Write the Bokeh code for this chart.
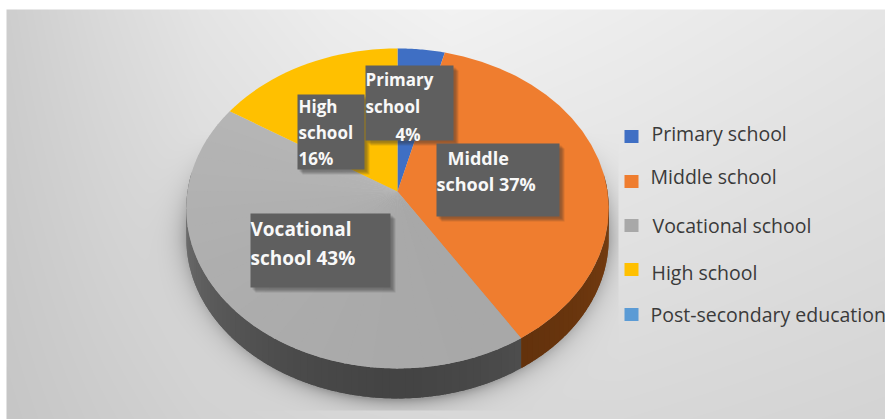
import numpy as np
from bokeh.core.properties import value
from bokeh.embed import file_html
from bokeh.plotting import figure
from bokeh.resources import INLINE

# Educational attainment shares
categories = ["Primary school", "Middle school", "Vocational school", "High school",
              "Post-secondary education"]
shares = [4, 37, 43, 16, 0]
top_colors = ["#3f6fc4", "#ef7d2f", "#a8a8a8", "#ffc000", "#5b9bd5"]
wall_dark = ["#24406f", "#5e2f0b", "#444444", "#7a5f00", "#2f5a85"]
wall_light = ["#2c4c80", "#7c4012", "#7a7a7a", "#8a6c00", "#376a9a"]

W, H = 885, 419
LEFT, TOP = 6, 9                  # the grey panel starts here and runs to the far edges

# Pie projection: tilted disc with slight perspective
CX, CY, AX, BY, K, DEPTH = 397.0, 191.0, 210.0, 158.2, 0.106, 30.0


def project(theta):
    u, v = np.sin(theta), np.cos(theta)
    d = 1 + K * v
    return CX + AX * u / d, CY - BY * v / d


def panel_background():
    ys, xs = np.mgrid[0:H, 0:W].astype(float)
    # grey levels across the panel, along its top and bottom edges
    grid_x = [6, 100, 200, 330, 450, 620, 885]
    at_top = [206, 218, 229, 238, 243, 238, 230]
    at_bot = [198, 204, 210, 214, 216, 216, 212]
    top = np.interp(xs, grid_x, at_top)
    bot = np.interp(xs, grid_x, at_bot)
    base = top + (bot - top) * (ys / H)
    # soft shadow cast by the disc, cut off by the legend area and near the foot
    ex = (xs - CX) / (AX + 1)
    ey = (ys - 223) / 176
    dist = np.sqrt(ex ** 2 + ey ** 2)
    shade = np.exp(-np.clip(dist - 1.0, 0, None) / 0.05)
    shade *= np.clip((ys - 130) / 110.0, 0, 1)
    shade[(xs >= 618) | (ys >= 410)] = 0
    base = base - 62 * shade
    g = np.clip(base, 0, 255).astype(np.uint32)
    rgba = (255 << 24) | (g << 16) | (g << 8) | g
    rgba[(xs < LEFT) | (ys < TOP)] = 0xFFFFFFFF
    return rgba.astype(np.uint32)


def mix(c1, c2, t):
    a = [int(c1[i:i + 2], 16) for i in (1, 3, 5)]
    b = [int(c2[i:i + 2], 16) for i in (1, 3, 5)]
    return "#%02x%02x%02x" % tuple(int(round(p + (q - p) * t)) for p, q in zip(a, b))


p = figure(width=W, height=H, x_range=(0, W), y_range=(H, 0), output_backend="svg",
           toolbar_location=None, min_border=0, outline_line_color=None,
           background_fill_color="white", border_fill_color="white")
p.axis.visible = False
p.grid.visible = False

p.image_rgba(image=[panel_background()], x=0, y=0, dw=W, dh=H)

# Slice angles follow the shares, clockwise from twelve o'clock
edges = np.cumsum([0] + shares) / sum(shares) * 2 * np.pi

# Side wall: overlapping strips along the visible front rim
wx, wy, wc = [], [], []
for i, (a0, a1) in enumerate(zip(edges[:-1], edges[1:])):
    lo, hi = max(a0, np.radians(84)), min(a1, np.radians(277))
    if hi <= lo:
        continue
    steps = np.linspace(lo, hi, int((hi - lo) * 30) + 2)
    for s0, s1 in zip(steps[:-1], steps[1:]):
        arc = np.linspace(s0, min(s1 + 0.03, hi), 6)
        x, y = project(arc)
        wx.append(np.r_[x, x[::-1]])
        wy.append(np.r_[y, y[::-1] + DEPTH])
        light = abs(np.degrees((s0 + s1) / 2) - 180) / 97
        wc.append(mix(wall_dark[i], wall_light[i], np.clip(light, 0, 1) ** 1.6))
p.patches(wx, wy, fill_color=wc, line_color=None)

# Top face; the large grey slice brightens slightly towards its upper left
fx, fy, fc = [], [], []
for i, (a0, a1, col) in enumerate(zip(edges[:-1], edges[1:], top_colors)):
    if a1 <= a0:
        continue
    pieces = 24 if i == 2 else 1
    cuts = np.linspace(a0, a1, pieces + 1)
    for j, (c0, c1) in enumerate(zip(cuts[:-1], cuts[1:])):
        x, y = project(np.linspace(c0, min(c1 + 0.01, a1), 24))
        fx.append(np.r_[CX, x])
        fy.append(np.r_[CY, y])
        fc.append(mix(col, "#b6b6b6", (j / pieces) ** 1.5) if i == 2 else col)
p.patches(fx, fy, fill_color=fc, line_color=None)

# Data label boxes: left, top, right, bottom, wrapped lines and type size
label_font = value("Open Sans")
boxes = [
    (297, 94, 364, 169, ["High", "school", "16%"], [298, 298, 298], [106, 132, 158], "17px"),
    (365, 65, 453, 140, ["Primary", "school", "4%"], [365, 365, 395], [79, 106, 134], "17px"),
    (436, 143, 559, 216, ["Middle", "school 37%"], [447, 436], [157, 183], "18px"),
    (250, 213, 390, 287, ["Vocational", "school 43%"], [250, 250], [228, 257], "19px"),
]
for l, t, r, b, lines, lx, ly, size in boxes:
    for off in (5, 4, 3, 2):
        p.quad(left=l + off, right=r + off, top=t + off, bottom=b + off, fill_color="#333333",
               fill_alpha=0.14, line_color=None)
    p.quad(left=l, right=r, top=t, bottom=b, fill_color="#5f5f5f", line_color=None)
    p.text(x=lx, y=ly, text=lines, text_color="#f8f8f8", text_font=label_font,
           text_font_size=size, text_font_style="bold", text_baseline="middle")

# Legend entries
swatch_y = [136, 181, 225, 269, 314]
text_x = [651, 650, 652, 651, 650]
text_y = [133, 176, 225, 272, 314]
p.quad(left=[624] * 5, right=[638] * 5, top=[y - 6.5 for y in swatch_y],
       bottom=[y + 6.5 for y in swatch_y], fill_color=top_colors, line_color=None)
p.text(x=text_x, y=text_y, text=categories, text_color="#3a3a3a", text_font=label_font,
       text_font_size="19.5px", text_baseline="middle")

open("out.html", "w").write(file_html(p, INLINE))
